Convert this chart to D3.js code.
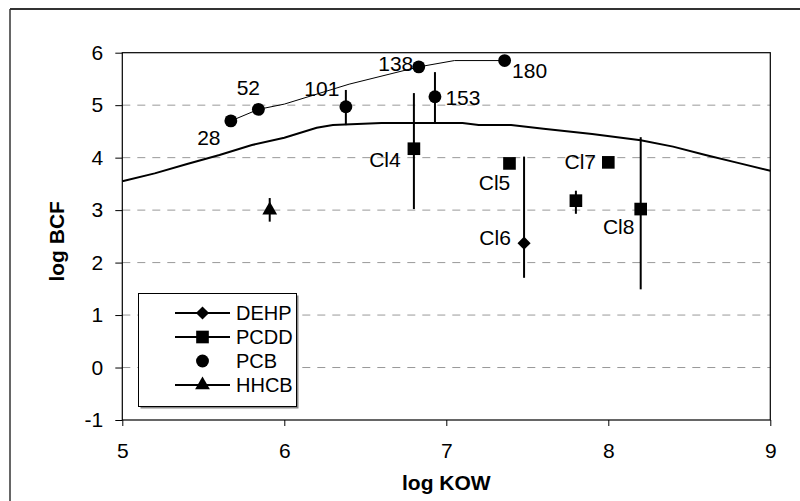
<!DOCTYPE html>
<html>
<head>
<meta charset="utf-8">
<script src="https://cdn.jsdelivr.net/npm/d3@7/dist/d3.min.js"></script>
<style>
  html, body { margin: 0; padding: 0; background: #fff; }
  svg { display: block; font-family: "Liberation Sans", Arial, sans-serif; }
</style>
</head>
<body>
<svg id="chart" width="800" height="501"></svg>
<script>
// ---- data ----
const xTicks = [5, 6, 7, 8, 9];
const yTicks = [-1, 0, 1, 2, 3, 4, 5, 6];

// Model curve (thick)
const modelX = [5.0, 5.2, 5.4, 5.6, 5.8, 6.0, 6.2, 6.3, 6.6, 7.1, 7.2, 7.4, 7.6, 7.9, 8.2, 8.4, 8.6, 8.8, 9.0];
const modelY = [3.55, 3.70, 3.88, 4.05, 4.24, 4.38, 4.57, 4.62, 4.66, 4.66, 4.62, 4.62, 4.55, 4.45, 4.33, 4.21, 4.05, 3.90, 3.75];

// PCB curve (thin)
const pcbCurveX = [5.67, 5.84, 6.0, 6.4, 6.83, 7.05, 7.36];
const pcbCurveY = [4.70, 4.92, 5.02, 5.40, 5.73, 5.85, 5.85];

// PCB points
const pcbX = [5.67, 5.84, 6.38, 6.83, 6.93, 7.36];
const pcbY = [4.70, 4.92, 4.97, 5.73, 5.16, 5.85];
const pcbLow = [null, null, 4.62, null, 4.67, null];
const pcbHigh = [null, null, 5.29, null, 5.63, null];
const pcbLabels = ["28", "52", "101", "138", "153", "180"];

// PCDD points
const pcddX = [6.80, 7.39, 7.80, 8.00, 8.20];
const pcddY = [4.17, 3.89, 3.18, 3.91, 3.02];
const pcddLow = [3.02, null, 2.93, null, 1.49];
const pcddHigh = [5.23, null, 3.37, null, 4.39];
const pcddLabels = ["Cl4", "Cl5", "", "Cl7", "Cl8"];

// DEHP points
const dehpX = [7.48];
const dehpY = [2.37];
const dehpLow = [1.71];
const dehpHigh = [4.02];
const dehpLabels = ["Cl6"];

// HHCB points
const hhcbX = [5.91];
const hhcbY = [3.00];
const hhcbLow = [2.78];
const hhcbHigh = [3.23];

const legendNames = ["DEHP", "PCDD", "PCB", "HHCB"];

// ---- layout ----
const svg = d3.select("#chart");
const L = 122.3, R = 770.3, T = 52.7, B = 420;
const x = d3.scaleLinear().domain([5, 9]).range([L, R]);
const y = d3.scaleLinear().domain([-1, 6]).range([B, T]);
const FS = 21;
const LFS = 20;

// outer frame (left & top edges visible)
svg.append("line").attr("x1", 10).attr("y1", 9).attr("x2", 800).attr("y2", 9)
  .attr("stroke", "#333").attr("stroke-width", 2);
svg.append("line").attr("x1", 10).attr("y1", 9).attr("x2", 10).attr("y2", 501)
  .attr("stroke", "#333").attr("stroke-width", 1.5);

// gridlines
svg.append("g").selectAll("line")
  .data(yTicks.filter(v => v > -1 && v < 6))
  .join("line")
  .attr("x1", L).attr("x2", R)
  .attr("y1", d => y(d)).attr("y2", d => y(d))
  .attr("stroke", "#999").attr("stroke-width", 1)
  .attr("stroke-dasharray", "8,7");

// axes
const fmt = d => String(d);
const yAxis = d3.axisLeft(y).tickValues(yTicks).tickSize(7).tickPadding(12).tickFormat(fmt);
const gy = svg.append("g").attr("transform", `translate(${L},0)`).call(yAxis);
const xAxis = d3.axisBottom(x).tickValues(xTicks).tickSize(6).tickPadding(17).tickFormat(fmt);
const gx = svg.append("g").attr("transform", `translate(0,${B})`).call(xAxis);
[gx, gy].forEach(g => {
  g.select(".domain").remove();
  g.selectAll(".tick line").attr("stroke", "#000");
  g.selectAll(".tick text").attr("font-size", FS).attr("fill", "#000")
    .attr("font-family", "Liberation Sans, Arial, sans-serif");
});
gy.selectAll(".tick text").attr("x", -19);

// plot frame
svg.append("rect").attr("x", L).attr("y", T).attr("width", R - L).attr("height", B - T)
  .attr("fill", "none").attr("stroke", "#000").attr("stroke-width", 1.2);

// axis titles
svg.append("text").attr("x", (L + R) / 2).attr("y", 490)
  .attr("text-anchor", "middle").attr("font-size", FS).attr("font-weight", "bold")
  .text("log KOW");
svg.append("text").attr("transform", `translate(64,${(T + B) / 2 + 5}) rotate(-90)`)
  .attr("text-anchor", "middle").attr("font-size", FS).attr("font-weight", "bold")
  .text("log BCF");

// curves
const line = d3.line().x(d => x(d[0])).y(d => y(d[1]));
svg.append("path").datum(modelX.map((v, i) => [v, modelY[i]]))
  .attr("d", line).attr("fill", "none").attr("stroke", "#000").attr("stroke-width", 2);
svg.append("path").datum(pcbCurveX.map((v, i) => [v, pcbCurveY[i]]))
  .attr("d", line).attr("fill", "none").attr("stroke", "#000").attr("stroke-width", 1);

// error bars
function errBars(xs, lows, highs) {
  const d = xs.map((v, i) => ({ x: v, lo: lows[i], hi: highs[i] })).filter(e => e.lo !== null);
  svg.append("g").selectAll("line").data(d).join("line")
    .attr("x1", e => x(e.x)).attr("x2", e => x(e.x))
    .attr("y1", e => y(e.lo)).attr("y2", e => y(e.hi))
    .attr("stroke", "#000").attr("stroke-width", 2);
}
errBars(pcbX, pcbLow, pcbHigh);
errBars(pcddX, pcddLow, pcddHigh);
errBars(dehpX, dehpLow, dehpHigh);
errBars(hhcbX, hhcbLow, hhcbHigh);

// markers
const sym = {
  DEHP: d3.symbol().type(d3.symbolDiamond2).size(110),
  PCDD: d3.symbol().type(d3.symbolSquare).size(160),
  PCB: d3.symbol().type(d3.symbolCircle).size(130),
  HHCB: d3.symbol().type(d3.symbolTriangle).size(95)
};
function markers(xs, ys, s) {
  svg.append("g").selectAll("path").data(xs.map((v, i) => [v, ys[i]])).join("path")
    .attr("transform", d => `translate(${x(d[0])},${y(d[1])})`)
    .attr("d", s).attr("fill", "#000");
}
markers(pcbX, pcbY, sym.PCB);
markers(pcddX, pcddY, sym.PCDD);
markers(dehpX, dehpY, sym.DEHP);
markers(hhcbX, hhcbY, sym.HHCB);

// point labels (offsets in px relative to point)
const pcbOff = [[-22, 24], [-10, -14], [-24, -11], [-23, 4], [28, 8], [25, 17]];
const pcddOff = [[-29, 18], [-15, 27], [0, 0], [-28, 7], [-22, 25]];
const dehpOff = [[-29, 2]];
function labels(xs, ys, texts, offs) {
  svg.append("g").selectAll("text").data(xs.map((v, i) => ({ x: v, y: ys[i], t: texts[i], o: offs[i] })))
    .join("text")
    .attr("x", d => x(d.x) + d.o[0]).attr("y", d => y(d.y) + d.o[1])
    .attr("text-anchor", "middle").attr("font-size", FS).attr("fill", "#000")
    .text(d => d.t);
}
labels(pcbX, pcbY, pcbLabels, pcbOff);
labels(pcddX, pcddY, pcddLabels, pcddOff);
labels(dehpX, dehpY, dehpLabels, dehpOff);

// legend
const lg = svg.append("g");
const lx = 138.5, ly = 293.5, lw = 158, lh = 113;
lg.append("rect").attr("x", lx + 2).attr("y", ly + 2).attr("width", lw).attr("height", lh).attr("fill", "#888");
lg.append("rect").attr("x", lx).attr("y", ly).attr("width", lw).attr("height", lh)
  .attr("fill", "#fff").attr("stroke", "#000").attr("stroke-width", 1);
const rowY = [313, 337, 361, 385];
legendNames.forEach((n, i) => {
  const cy = rowY[i];
  if (n !== "PCB") {
    lg.append("line").attr("x1", 175).attr("x2", 230).attr("y1", cy).attr("y2", cy)
      .attr("stroke", "#000").attr("stroke-width", 2);
  }
  lg.append("path").attr("transform", `translate(202.5,${cy})`).attr("d", sym[n]).attr("fill", "#000");
  lg.append("text").attr("x", 236).attr("y", cy + 7).attr("font-size", LFS).text(n);
});
</script>
</body>
</html>
